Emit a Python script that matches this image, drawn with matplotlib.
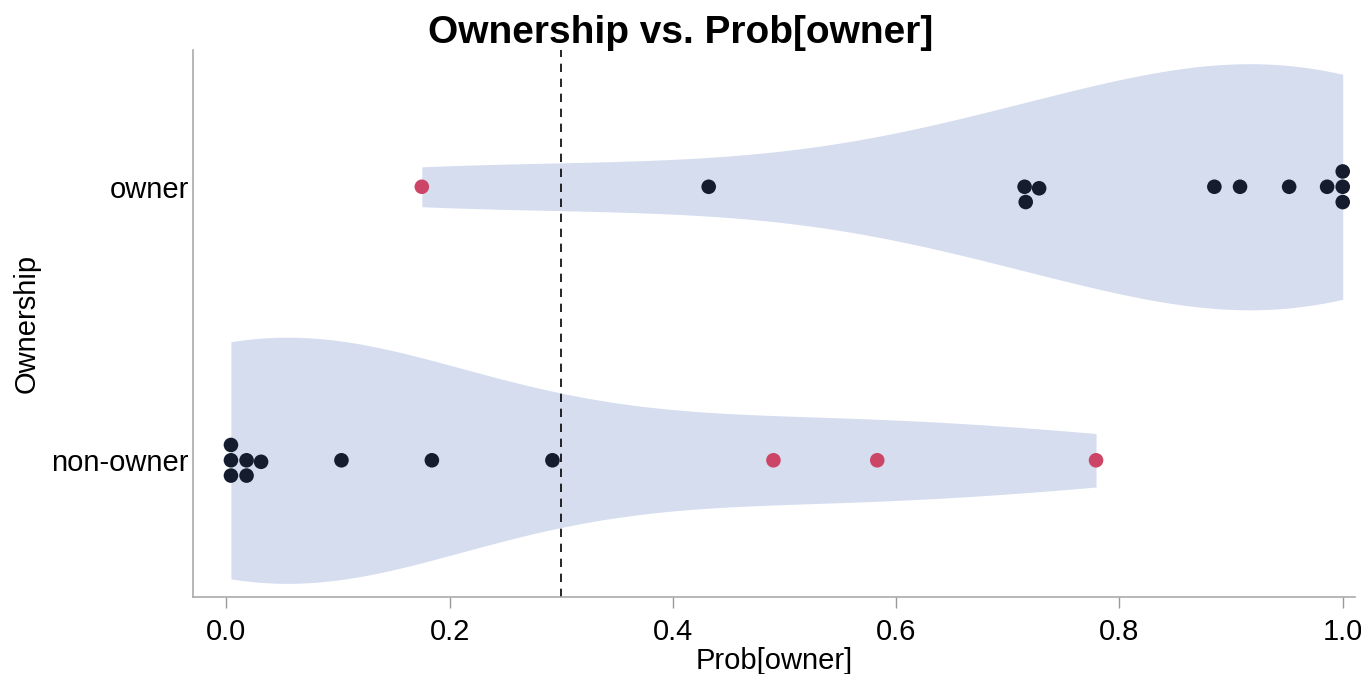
import pandas as pd
import matplotlib
matplotlib.use("Agg")
import matplotlib.pyplot as plt
import seaborn as sns

# predicted probability of ownership, per true class
owner_probs = [0.175, 0.432, 0.715, 0.716, 0.728, 0.885, 0.908, 0.952, 0.986, 1.0, 1.0, 1.0]
nonowner_probs = [0.004, 0.004, 0.004, 0.018, 0.018, 0.031, 0.103, 0.184, 0.292, 0.49, 0.583, 0.779]
categories = ["owner", "non-owner"]
cutoff = 0.3

df = pd.DataFrame({
    "Ownership": ["owner"] * len(owner_probs) + ["non-owner"] * len(nonowner_probs),
    "Prob[owner]": owner_probs + nonowner_probs,
})
df["wrong"] = ((df["Ownership"] == "owner") & (df["Prob[owner]"] < cutoff)) | \
              ((df["Ownership"] == "non-owner") & (df["Prob[owner]"] > cutoff))

plt.rcParams["font.family"] = ["Liberation Sans", "DejaVu Sans"]

fig = plt.figure(figsize=(13.61, 6.74), dpi=100)
ax = fig.add_axes([0.1418, 0.1142, 0.8538, 0.8116])

sns.violinplot(data=df, x="Prob[owner]", y="Ownership", order=categories, orient="h",
               cut=0, inner=None, density_norm="width", width=0.9, bw_adjust=1.0,
               color="#d5ddef", saturation=1, linewidth=0, ax=ax)
sns.swarmplot(data=df, x="Prob[owner]", y="Ownership", order=categories, orient="h",
              hue="wrong", palette={False: "#141c2e", True: "#cc4566"},
              size=10.5, legend=False, ax=ax)

ax.axvline(cutoff, color="black", linestyle=(0, (5, 4)), linewidth=1.2)

ax.set_xlim(-0.03, 1.011)
ax.set_ylim(1.5, -0.5)
ax.set_xticks([0.0, 0.2, 0.4, 0.6, 0.8, 1.0])
ax.set_xlabel("Prob[owner]", fontsize=21, labelpad=1)
ax.set_ylabel("Ownership", fontsize=21, labelpad=8)
ax.tick_params(axis="x", labelsize=21, color="#999999", length=8, width=1, pad=7)
ax.tick_params(axis="y", labelsize=21, length=0, pad=3)
for s in ["top", "right"]:
    ax.spines[s].set_visible(False)
for s in ["left", "bottom"]:
    ax.spines[s].set_color("#aaaaaa")
    ax.spines[s].set_linewidth(1.2)

fig.suptitle("Ownership vs. Prob[owner]", fontsize=28, fontweight="bold", x=0.5, y=0.978)

fig.savefig("out.png", dpi=100)
